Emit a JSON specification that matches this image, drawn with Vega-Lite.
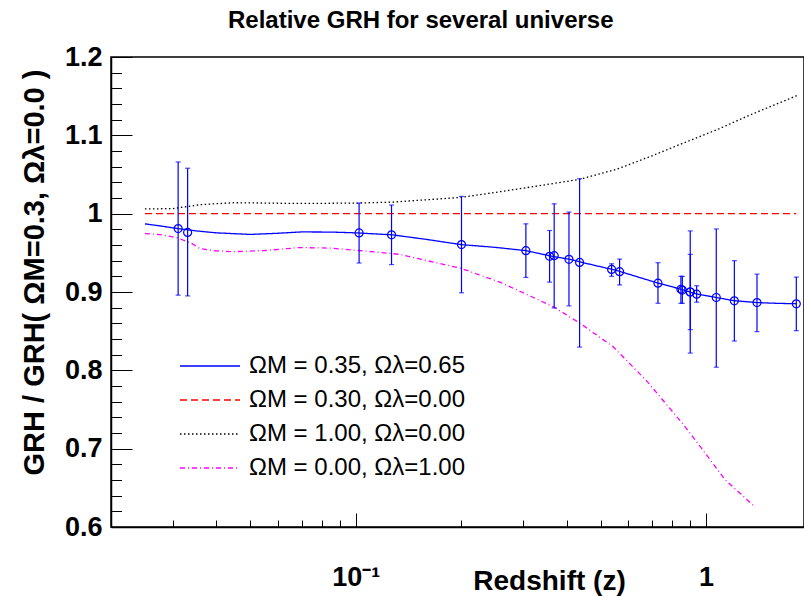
{
  "$schema": "https://vega.github.io/schema/vega-lite/v6.json",
  "width": 693,
  "height": 470,
  "autosize": {"type": "none"},
  "padding": {"left": 111, "top": 57, "right": 0, "bottom": 69},
  "background": "white",
  "title": {"text": "Relative GRH for several universe", "anchor": "start", "frame": "group", "dx": 117, "offset": 10, "fontSize": 24, "font": "Liberation Sans", "fontWeight": "bold", "color": "black"},
  "config": {"view": {"stroke": "black", "strokeWidth": 1.5}},
  "datasets": {
    "curves": [
      {"series": "ΩM = 0.35, Ωλ=0.65", "z": 0.025, "v": 0.987},
      {"series": "ΩM = 0.35, Ωλ=0.65", "z": 0.028, "v": 0.984},
      {"series": "ΩM = 0.35, Ωλ=0.65", "z": 0.031, "v": 0.981},
      {"series": "ΩM = 0.35, Ωλ=0.65", "z": 0.035, "v": 0.978},
      {"series": "ΩM = 0.35, Ωλ=0.65", "z": 0.04, "v": 0.9755},
      {"series": "ΩM = 0.35, Ωλ=0.65", "z": 0.05, "v": 0.9735},
      {"series": "ΩM = 0.35, Ωλ=0.65", "z": 0.06, "v": 0.975},
      {"series": "ΩM = 0.35, Ωλ=0.65", "z": 0.07, "v": 0.9767},
      {"series": "ΩM = 0.35, Ωλ=0.65", "z": 0.085, "v": 0.9765},
      {"series": "ΩM = 0.35, Ωλ=0.65", "z": 0.1, "v": 0.9755},
      {"series": "ΩM = 0.35, Ωλ=0.65", "z": 0.127, "v": 0.973},
      {"series": "ΩM = 0.35, Ωλ=0.65", "z": 0.16, "v": 0.967},
      {"series": "ΩM = 0.35, Ωλ=0.65", "z": 0.2, "v": 0.9605},
      {"series": "ΩM = 0.35, Ωλ=0.65", "z": 0.25, "v": 0.957},
      {"series": "ΩM = 0.35, Ωλ=0.65", "z": 0.306, "v": 0.9528},
      {"series": "ΩM = 0.35, Ωλ=0.65", "z": 0.36, "v": 0.946},
      {"series": "ΩM = 0.35, Ωλ=0.65", "z": 0.41, "v": 0.9415},
      {"series": "ΩM = 0.35, Ωλ=0.65", "z": 0.45, "v": 0.937},
      {"series": "ΩM = 0.35, Ωλ=0.65", "z": 0.54, "v": 0.9288},
      {"series": "ΩM = 0.35, Ωλ=0.65", "z": 0.57, "v": 0.926},
      {"series": "ΩM = 0.35, Ωλ=0.65", "z": 0.73, "v": 0.9113},
      {"series": "ΩM = 0.35, Ωλ=0.65", "z": 0.85, "v": 0.9035},
      {"series": "ΩM = 0.35, Ωλ=0.65", "z": 0.9, "v": 0.9},
      {"series": "ΩM = 0.35, Ωλ=0.65", "z": 0.94, "v": 0.8975},
      {"series": "ΩM = 0.35, Ωλ=0.65", "z": 1.07, "v": 0.893},
      {"series": "ΩM = 0.35, Ωλ=0.65", "z": 1.2, "v": 0.889},
      {"series": "ΩM = 0.35, Ωλ=0.65", "z": 1.4, "v": 0.8865},
      {"series": "ΩM = 0.35, Ωλ=0.65", "z": 1.6, "v": 0.8855},
      {"series": "ΩM = 0.35, Ωλ=0.65", "z": 1.81, "v": 0.885},
      {"series": "ΩM = 0.30, Ωλ=0.00", "z": 0.025, "v": 1.0},
      {"series": "ΩM = 0.30, Ωλ=0.00", "z": 1.81, "v": 1.0},
      {"series": "ΩM = 1.00, Ωλ=0.00", "z": 0.025, "v": 1.006},
      {"series": "ΩM = 1.00, Ωλ=0.00", "z": 0.03, "v": 1.0065},
      {"series": "ΩM = 1.00, Ωλ=0.00", "z": 0.033, "v": 1.009},
      {"series": "ΩM = 1.00, Ωλ=0.00", "z": 0.036, "v": 1.0115},
      {"series": "ΩM = 1.00, Ωλ=0.00", "z": 0.045, "v": 1.014},
      {"series": "ΩM = 1.00, Ωλ=0.00", "z": 0.069, "v": 1.013},
      {"series": "ΩM = 1.00, Ωλ=0.00", "z": 0.1, "v": 1.0135},
      {"series": "ΩM = 1.00, Ωλ=0.00", "z": 0.127, "v": 1.0147},
      {"series": "ΩM = 1.00, Ωλ=0.00", "z": 0.2, "v": 1.0208},
      {"series": "ΩM = 1.00, Ωλ=0.00", "z": 0.258, "v": 1.028},
      {"series": "ΩM = 1.00, Ωλ=0.00", "z": 0.32, "v": 1.0344},
      {"series": "ΩM = 1.00, Ωλ=0.00", "z": 0.4356, "v": 1.0438},
      {"series": "ΩM = 1.00, Ωλ=0.00", "z": 0.5556, "v": 1.0567},
      {"series": "ΩM = 1.00, Ωλ=0.00", "z": 0.6918, "v": 1.0728},
      {"series": "ΩM = 1.00, Ωλ=0.00", "z": 0.86, "v": 1.09},
      {"series": "ΩM = 1.00, Ωλ=0.00", "z": 1.073, "v": 1.107},
      {"series": "ΩM = 1.00, Ωλ=0.00", "z": 1.336, "v": 1.126},
      {"series": "ΩM = 1.00, Ωλ=0.00", "z": 1.816, "v": 1.1506},
      {"series": "ΩM = 0.00, Ωλ=1.00", "z": 0.025, "v": 0.9746},
      {"series": "ΩM = 0.00, Ωλ=1.00", "z": 0.028, "v": 0.973},
      {"series": "ΩM = 0.00, Ωλ=1.00", "z": 0.031, "v": 0.969},
      {"series": "ΩM = 0.00, Ωλ=1.00", "z": 0.034, "v": 0.962},
      {"series": "ΩM = 0.00, Ωλ=1.00", "z": 0.0359, "v": 0.9554},
      {"series": "ΩM = 0.00, Ωλ=1.00", "z": 0.04, "v": 0.9525},
      {"series": "ΩM = 0.00, Ωλ=1.00", "z": 0.0446, "v": 0.9515},
      {"series": "ΩM = 0.00, Ωλ=1.00", "z": 0.055, "v": 0.953},
      {"series": "ΩM = 0.00, Ωλ=1.00", "z": 0.069, "v": 0.9567},
      {"series": "ΩM = 0.00, Ωλ=1.00", "z": 0.085, "v": 0.956},
      {"series": "ΩM = 0.00, Ωλ=1.00", "z": 0.102, "v": 0.953},
      {"series": "ΩM = 0.00, Ωλ=1.00", "z": 0.127, "v": 0.949},
      {"series": "ΩM = 0.00, Ωλ=1.00", "z": 0.1336, "v": 0.948},
      {"series": "ΩM = 0.00, Ωλ=1.00", "z": 0.2004, "v": 0.93},
      {"series": "ΩM = 0.00, Ωλ=1.00", "z": 0.2578, "v": 0.9126},
      {"series": "ΩM = 0.00, Ωλ=1.00", "z": 0.3204, "v": 0.8933},
      {"series": "ΩM = 0.00, Ωλ=1.00", "z": 0.3686, "v": 0.8805},
      {"series": "ΩM = 0.00, Ωλ=1.00", "z": 0.4356, "v": 0.8605},
      {"series": "ΩM = 0.00, Ωλ=1.00", "z": 0.5434, "v": 0.83},
      {"series": "ΩM = 0.00, Ωλ=1.00", "z": 0.677, "v": 0.7865},
      {"series": "ΩM = 0.00, Ωλ=1.00", "z": 0.8614, "v": 0.731},
      {"series": "ΩM = 0.00, Ωλ=1.00", "z": 0.961, "v": 0.7032},
      {"series": "ΩM = 0.00, Ωλ=1.00", "z": 1.133, "v": 0.6605},
      {"series": "ΩM = 0.00, Ωλ=1.00", "z": 1.365, "v": 0.6276}
    ],
    "points": [
      {"z": 0.0311, "v": 0.981, "lo": 0.896, "hi": 1.066},
      {"z": 0.0331, "v": 0.976, "lo": 0.895, "hi": 1.058},
      {"z": 0.1022, "v": 0.9754, "lo": 0.937, "hi": 1.0135},
      {"z": 0.1265, "v": 0.973, "lo": 0.935, "hi": 1.011},
      {"z": 0.2004, "v": 0.9605, "lo": 0.899, "hi": 1.022},
      {"z": 0.306, "v": 0.9528, "lo": 0.9186, "hi": 0.987},
      {"z": 0.3576, "v": 0.9455, "lo": 0.9126, "hi": 0.9785},
      {"z": 0.3686, "v": 0.9464, "lo": 0.8797, "hi": 1.0126},
      {"z": 0.4062, "v": 0.9417, "lo": 0.8823, "hi": 1.002},
      {"z": 0.4356, "v": 0.9378, "lo": 0.8297, "hi": 1.0446},
      {"z": 0.5377, "v": 0.9288, "lo": 0.92, "hi": 0.936},
      {"z": 0.5667, "v": 0.9259, "lo": 0.909, "hi": 0.942},
      {"z": 0.7293, "v": 0.9113, "lo": 0.8856, "hi": 0.9374},
      {"z": 0.848, "v": 0.9035, "lo": 0.8856, "hi": 0.92},
      {"z": 0.856, "v": 0.9025, "lo": 0.8856, "hi": 0.92},
      {"z": 0.9017, "v": 0.9, "lo": 0.822, "hi": 0.978},
      {"z": 0.9017, "v": 0.9, "lo": 0.852, "hi": 0.948},
      {"z": 0.9406, "v": 0.8972, "lo": 0.887, "hi": 0.908},
      {"z": 1.07, "v": 0.893, "lo": 0.804, "hi": 0.9805},
      {"z": 1.205, "v": 0.8887, "lo": 0.8374, "hi": 0.94},
      {"z": 1.3985, "v": 0.8865, "lo": 0.8494, "hi": 0.9228},
      {"z": 1.811, "v": 0.8849, "lo": 0.8506, "hi": 0.919}
    ]
  },
  "layer": [
    {
      "data": {"name": "curves"},
      "mark": {"type": "line", "strokeWidth": 1.3},
      "encoding": {
        "x": {"field": "z", "type": "quantitative",
          "scale": {"type": "log", "domain": [0.02, 1.905], "nice": false},
          "axis": {"orient": "bottom", "values": [0.1, 1], "labelExpr": "datum.value < 0.5 ? '10⁻¹' : '1'",
            "tickSize": -14, "tickWidth": 1, "tickColor": "black", "labelPadding": 51,
            "labelFont": "Liberation Sans", "labelFontWeight": "bold", "labelFontSize": 27, "labelColor": "black",
            "labelFlush": false, "labelOverlap": false, "domainColor": "black", "domainWidth": 1.5, "grid": false,
            "title": "Redshift (z)", "titleX": 438, "titleY": 62, "titleAlign": "center", "titleBaseline": "alphabetic",
            "titleFont": "Liberation Sans", "titleFontWeight": "bold", "titleFontSize": 28, "titleColor": "black"}},
        "y": {"field": "v", "type": "quantitative",
          "scale": {"domain": [0.6, 1.2], "nice": false, "zero": false},
          "axis": {"orient": "left", "values": [0.6, 0.7, 0.8, 0.9, 1, 1.1, 1.2],
            "labelExpr": "datum.value == 1 ? '1' : format(datum.value, '.1f')",
            "tickSize": -21, "tickWidth": 1, "tickColor": "black", "labelPadding": 30,
            "labelFont": "Liberation Sans", "labelFontWeight": "bold", "labelFontSize": 27, "labelColor": "black",
            "labelFlush": false, "labelOverlap": false, "domainColor": "black", "domainWidth": 1.5, "grid": false,
            "title": "GRH / GRH( ΩM=0.3, Ωλ=0.0 )", "titleAngle": -90, "titleX": -68, "titleY": 215,
            "titleAlign": "center", "titleBaseline": "alphabetic",
            "titleFont": "Liberation Sans", "titleFontWeight": "bold", "titleFontSize": 29, "titleColor": "black"}},
        "color": {"field": "series", "type": "nominal",
          "scale": {"domain": ["ΩM = 0.35, Ωλ=0.65", "ΩM = 0.30, Ωλ=0.00", "ΩM = 1.00, Ωλ=0.00", "ΩM = 0.00, Ωλ=1.00"],
                    "range": ["#0000ff", "#ff0000", "#000000", "#ff00ff"]},
          "legend": {"title": null, "orient": "none", "legendX": 87, "legendY": 297, "symbolType": "M-3,0H3", "symbolSize": 400,
            "symbolStrokeWidth": 1.3, "labelFontSize": 24, "labelFont": "Liberation Sans", "labelColor": "black",
            "labelOffset": 27, "rowPadding": 10, "padding": 0, "labelLimit": 400}},
        "strokeDash": {"field": "series", "type": "nominal",
          "scale": {"domain": ["ΩM = 0.35, Ωλ=0.65", "ΩM = 0.30, Ωλ=0.00", "ΩM = 1.00, Ωλ=0.00", "ΩM = 0.00, Ωλ=1.00"],
                    "range": [[1, 0], [7, 4], [1.5, 2.5], [5, 3, 1, 3]]},
          "legend": {"title": null, "orient": "none", "legendX": 87, "legendY": 297, "symbolType": "M-3,0H3", "symbolSize": 400,
            "symbolStrokeWidth": 1.3, "labelFontSize": 24, "labelFont": "Liberation Sans", "labelColor": "black",
            "labelOffset": 27, "rowPadding": 10, "padding": 0, "labelLimit": 400}}
      }
    },
    {
      "data": {"name": "points"},
      "mark": {"type": "rule", "color": "#0000ff", "strokeWidth": 1.2},
      "encoding": {
        "x": {"field": "z", "type": "quantitative",
          "scale": {"type": "log", "domain": [0.02, 1.905], "nice": false},
          "axis": {"orient": "bottom", "values": [0.03, 0.04, 0.05, 0.06, 0.07, 0.08, 0.09, 0.2, 0.3, 0.4, 0.5, 0.6, 0.7, 0.8, 0.9],
            "labels": false, "domain": false, "grid": false, "tickSize": -7, "tickWidth": 1, "tickColor": "black", "title": null}},
        "y": {"field": "lo", "type": "quantitative",
          "scale": {"domain": [0.6, 1.2], "nice": false, "zero": false},
          "axis": {"orient": "left", "values": [0.62, 0.64, 0.66, 0.68, 0.72, 0.74, 0.76, 0.78, 0.82, 0.84, 0.86, 0.88, 0.92, 0.94, 0.96, 0.98, 1.02, 1.04, 1.06, 1.08, 1.12, 1.14, 1.16, 1.18],
            "labels": false, "domain": false, "grid": false, "tickSize": -10.5, "tickWidth": 1, "tickColor": "black", "title": null}},
        "y2": {"field": "hi"}
      }
    },
    {
      "data": {"name": "points"},
      "mark": {"type": "tick", "color": "#0000ff", "orient": "horizontal", "size": 5, "thickness": 1.2},
      "encoding": {
        "x": {"field": "z", "type": "quantitative", "scale": {"type": "log", "domain": [0.02, 1.905], "nice": false}, "axis": null},
        "y": {"field": "lo", "type": "quantitative", "scale": {"domain": [0.6, 1.2], "nice": false, "zero": false}, "axis": null}
      }
    },
    {
      "data": {"name": "points"},
      "mark": {"type": "tick", "color": "#0000ff", "orient": "horizontal", "size": 5, "thickness": 1.2},
      "encoding": {
        "x": {"field": "z", "type": "quantitative", "scale": {"type": "log", "domain": [0.02, 1.905], "nice": false}, "axis": null},
        "y": {"field": "hi", "type": "quantitative", "scale": {"domain": [0.6, 1.2], "nice": false, "zero": false}, "axis": null}
      }
    },
    {
      "data": {"name": "points"},
      "mark": {"type": "point", "shape": "circle", "filled": false, "color": "#0000ff", "size": 64, "strokeWidth": 1.2, "opacity": 1},
      "encoding": {
        "x": {"field": "z", "type": "quantitative", "scale": {"type": "log", "domain": [0.02, 1.905], "nice": false}, "axis": null},
        "y": {"field": "v", "type": "quantitative", "scale": {"domain": [0.6, 1.2], "nice": false, "zero": false}, "axis": null}
      }
    }
  ],
  "resolve": {"axis": {"x": "independent", "y": "independent"}}
}
